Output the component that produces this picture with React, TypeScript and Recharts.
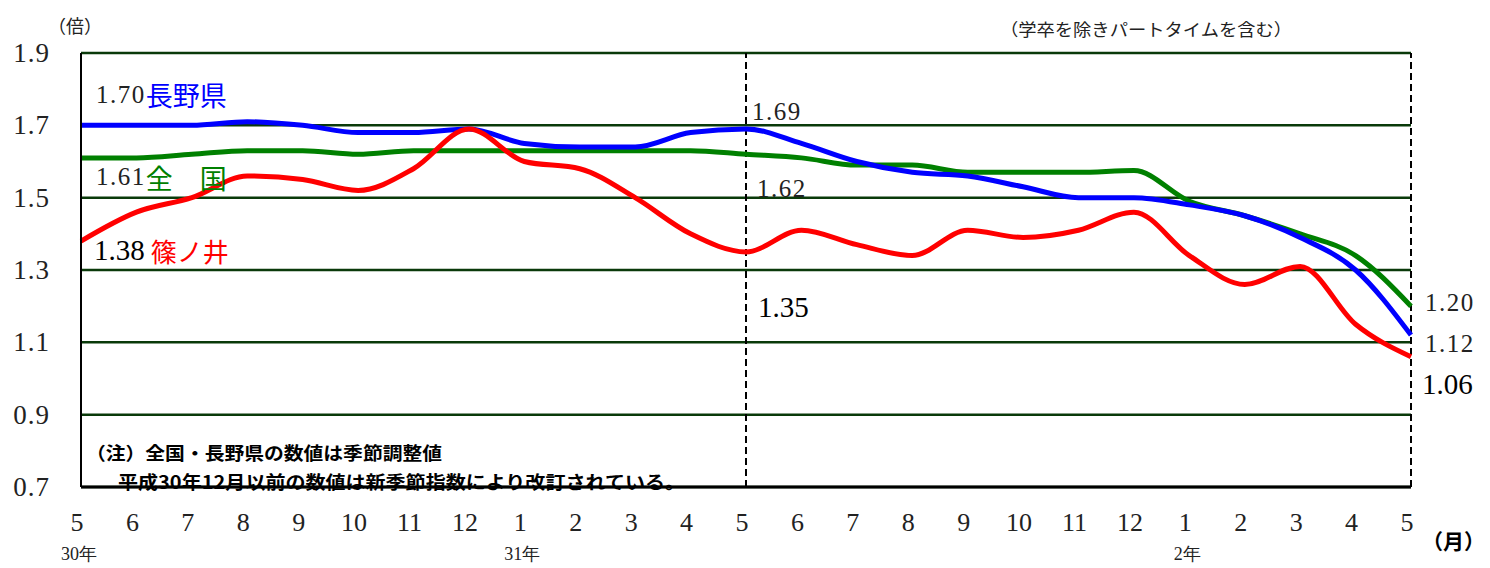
import React from 'react';
import { LineChart, Line, XAxis, YAxis, CartesianGrid, ReferenceLine, LabelList } from 'recharts';

const months = [5, 6, 7, 8, 9, 10, 11, 12, 1, 2, 3, 4, 5, 6, 7, 8, 9, 10, 11, 12, 1, 2, 3, 4, 5];
const yearLabels: Record<number, string> = { 0: '30年', 8: '31年', 20: '2年' };
const nagano = [1.70, 1.70, 1.70, 1.71, 1.70, 1.68, 1.68, 1.69, 1.65, 1.64, 1.64, 1.68, 1.69, 1.65, 1.60, 1.57, 1.56, 1.53, 1.50, 1.50, 1.48, 1.45, 1.39, 1.30, 1.12];
const zenkoku = [1.61, 1.61, 1.62, 1.63, 1.63, 1.62, 1.63, 1.63, 1.63, 1.63, 1.63, 1.63, 1.62, 1.61, 1.59, 1.59, 1.57, 1.57, 1.57, 1.575, 1.49, 1.45, 1.40, 1.34, 1.20];
const shinonoi = [1.38, 1.46, 1.50, 1.56, 1.55, 1.52, 1.58, 1.69, 1.60, 1.58, 1.50, 1.40, 1.35, 1.41, 1.37, 1.34, 1.41, 1.39, 1.41, 1.46, 1.34, 1.26, 1.31, 1.15, 1.06];
const yTicks = [0.7, 0.9, 1.1, 1.3, 1.5, 1.7, 1.9];

const data = months.map((m, i) => ({
  idx: i,
  month: m,
  nagano: nagano[i],
  zenkoku: zenkoku[i],
  shinonoi: shinonoi[i],
}));

const SERIF = '"Liberation Serif", "DejaVu Serif", serif';
const GOTHIC = '"Noto Sans CJK JP", "Noto Sans", sans-serif';
const NUM = '#222';

type LabelSpec = { dx: number; dy: number; text: string; size: number; color?: string; name?: string; nameColor?: string; nameSize?: number; nameGap?: number; spacing?: number };

const makeLabel = (specs: Record<number, LabelSpec>) => (props: any) => {
  const { x, y, index } = props;
  const s = specs[index];
  if (!s) return null;
  return (
    <text x={x + s.dx} y={y + s.dy} dominantBaseline="central" fontFamily={SERIF} fontSize={s.size} fill={s.color ?? NUM} letterSpacing={s.spacing ?? 0}>
      {s.text}
      {s.name ? (
        <tspan dx={s.nameGap ?? 0} fontFamily={GOTHIC} fontSize={s.nameSize} fill={s.nameColor} letterSpacing={0}>
          {s.name}
        </tspan>
      ) : null}
    </text>
  );
};

const naganoLabels = makeLabel({
  0: { dx: 15, dy: -31, text: nagano[0].toFixed(2), size: 25, spacing: 1.5, name: '長野県', nameColor: '#0000FF', nameSize: 27 },
  12: { dx: 6, dy: -17, text: nagano[12].toFixed(2), size: 25, spacing: 1.5 },
  24: { dx: 14, dy: 8, text: nagano[24].toFixed(2), size: 25, spacing: 1.5 },
});
const zenkokuLabels = makeLabel({
  0: { dx: 15, dy: 19, text: zenkoku[0].toFixed(2), size: 25, spacing: 1.5, name: '全　国', nameColor: '#008000', nameSize: 27 },
  12: { dx: 11, dy: 34, text: zenkoku[12].toFixed(2), size: 25, spacing: 1.5 },
  24: { dx: 14, dy: -4, text: zenkoku[24].toFixed(2), size: 25, spacing: 1.5 },
});
const shinonoiLabels = makeLabel({
  0: { dx: 13, dy: 9, text: shinonoi[0].toFixed(2), size: 29, color: '#000', name: '篠ノ井', nameColor: '#FF0000', nameSize: 26, nameGap: 6 },
  12: { dx: 12, dy: 55, text: shinonoi[12].toFixed(2), size: 29, color: '#000' },
  24: { dx: 11, dy: 27, text: shinonoi[24].toFixed(2), size: 29, color: '#000' },
});

const XTick = (props: any) => {
  const { x, payload } = props;
  const i = payload.value as number;
  const yl = yearLabels[i];
  return (
    <g>
      <text x={x - 4} y={522} textAnchor="middle" dominantBaseline="central" fontFamily={SERIF} fontSize={26} fill={NUM}>
        {months[i]}
      </text>
      {yl ? (
        <text x={x - 2} y={554} textAnchor="middle" dominantBaseline="central" fontFamily={SERIF} fontSize={18} fill={NUM}>
          {yl}
        </text>
      ) : null}
    </g>
  );
};

const YTick = (props: any) => {
  const { y, payload } = props;
  return (
    <text x={50} y={y} textAnchor="end" dominantBaseline="central" fontFamily={SERIF} fontSize={27} fill={NUM} letterSpacing={1}>
      {payload.value.toFixed(1)}
    </text>
  );
};

export default function App() {
  return (
    <div style={{ position: 'absolute', left: 0, top: 0, width: 1490, height: 568, background: '#fff' }}>
      <LineChart width={1490} height={568} data={data} margin={{ top: 53, right: 79, bottom: 0, left: 0 }}>
        <CartesianGrid vertical={false} stroke="#0a3a0a" strokeWidth={2.5} horizontalValues={yTicks} />
        <XAxis
          dataKey="idx"
          type="number"
          domain={[0, 24]}
          ticks={months.map((_, i) => i)}
          interval={0}
          tick={<XTick />}
          tickLine={false}
          axisLine={{ stroke: '#000', strokeWidth: 3 }}
          height={81}
        />
        <YAxis
          domain={[0.7, 1.9]}
          ticks={yTicks}
          tick={<YTick />}
          tickLine={false}
          axisLine={{ stroke: '#000', strokeWidth: 2 }}
          width={81}
        />
        <ReferenceLine x={12} stroke="#000" strokeWidth={2} strokeDasharray="7 4" />
        <ReferenceLine x={24} stroke="#000" strokeWidth={2} strokeDasharray="7 4" />
        <Line type="monotone" dataKey="zenkoku" stroke="#008000" strokeWidth={5} dot={false} isAnimationActive={false}>
          <LabelList dataKey="zenkoku" content={zenkokuLabels} />
        </Line>
        <Line type="monotone" dataKey="nagano" stroke="#0000FF" strokeWidth={5} dot={false} isAnimationActive={false}>
          <LabelList dataKey="nagano" content={naganoLabels} />
        </Line>
        <Line type="monotone" dataKey="shinonoi" stroke="#FF0000" strokeWidth={5} dot={false} isAnimationActive={false}>
          <LabelList dataKey="shinonoi" content={shinonoiLabels} />
        </Line>
      </LineChart>
      <svg width={1490} height={568} style={{ position: 'absolute', left: 0, top: 0, pointerEvents: 'none' }}>
        <text x={48} y={25} dominantBaseline="central" fontFamily={GOTHIC} fontSize={18} fill="#222">（倍）</text>
        <text x={1000} y={28} dominantBaseline="central" fontFamily={GOTHIC} fontSize={17} fill="#222" textLength={292} lengthAdjust="spacingAndGlyphs">（学卒を除きパートタイムを含む）</text>
        <text x={86} y={452} dominantBaseline="central" fontFamily={GOTHIC} fontWeight="bold" fontSize={18} fill="#000" textLength={356} lengthAdjust="spacingAndGlyphs">（注）全国・長野県の数値は季節調整値</text>
        <text x={118} y={481} dominantBaseline="central" fontFamily={GOTHIC} fontWeight="bold" fontSize={18} fill="#000" textLength={567} lengthAdjust="spacingAndGlyphs">平成30年12月以前の数値は新季節指数により改訂されている。</text>
        <text x={1422} y={540} dominantBaseline="central" fontFamily={GOTHIC} fontWeight="bold" fontSize={21} fill="#000">（月）</text>
      </svg>
    </div>
  );
}
